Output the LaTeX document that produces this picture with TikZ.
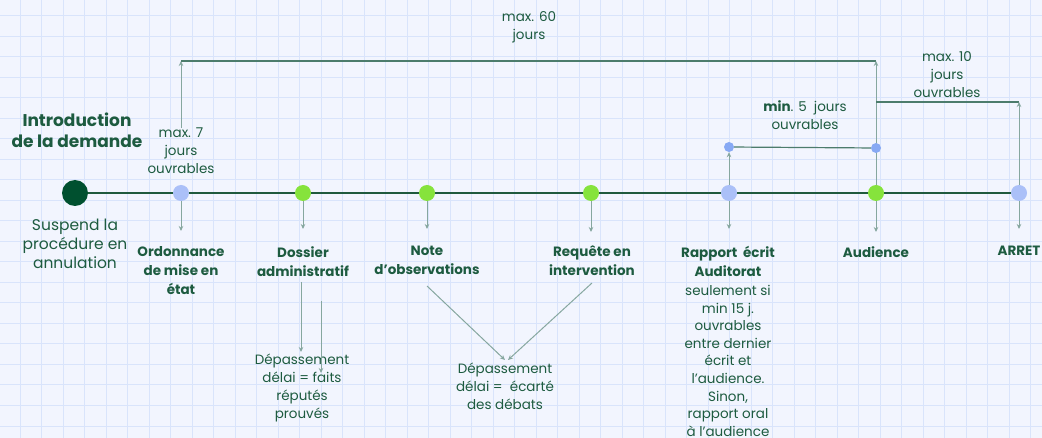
\documentclass[tikz,border=0pt]{standalone}
\usepackage{fontspec}
\setmainfont{Poppins}
\usetikzlibrary{arrows.meta}
\definecolor{bgc}{HTML}{F2F5FE}
\definecolor{gridc}{HTML}{D9E4FB}
\definecolor{darkdot}{HTML}{00502F}
\definecolor{lbdot}{HTML}{ABC0F8}
\definecolor{grdot}{HTML}{86E33C}
\definecolor{smdot}{HTML}{87A9F4}
\definecolor{tlc}{HTML}{1F5A3D}
\definecolor{connc}{HTML}{86A79F}
\definecolor{brkc}{HTML}{4C7C6C}
\definecolor{txtc}{HTML}{1D5B40}
\tikzset{
  dotbig/.style={circle,fill=darkdot,minimum size=26pt,inner sep=0pt},
  dotlb/.style={circle,fill=lbdot,minimum size=16pt,inner sep=0pt},
  dotgr/.style={circle,fill=grdot,minimum size=16pt,inner sep=0pt},
  dotsm/.style={circle,fill=smdot,minimum size=10pt,inner sep=0pt},
  timeline/.style={draw=tlc,line width=1.5pt},
  conn/.style={draw=connc,line width=1pt,-{Stealth[length=5pt,width=4.5pt]}},
  brk/.style={draw=brkc,line width=1.2pt},
  lbl/.style={text=txtc,align=center,inner sep=0pt,anchor=north,font=\fontsize{13.5}{19}\selectfont\bfseries},
  note/.style={text=txtc,align=center,inner sep=0pt,anchor=north,font=\fontsize{13.5}{18.5}\selectfont},
}
\begin{document}
\begin{tikzpicture}[x=1pt,y=-1pt]
\useasboundingbox (0,0) rectangle (1042,438);
\fill[bgc] (0,0) rectangle (1042,438);
\foreach \i in {0,...,48} {\draw[gridc,line width=1pt] (20+21.5*\i,0) -- (20+21.5*\i,438);}
\foreach \j in {0,...,21} {\draw[gridc,line width=1pt] (0,16+20.5*\j) -- (1042,16+20.5*\j);}

% coordinates
\coordinate (p0) at (75,193);
\coordinate (p1) at (181,193);
\coordinate (p2) at (303,193);
\coordinate (p3) at (427,193);
\coordinate (p4) at (591,193);
\coordinate (p5) at (729,193);
\coordinate (p6) at (876,193);
\coordinate (p7) at (1019,193);

% timeline
\draw[timeline] (p0) -- (p7);

% texts
\node[lbl,font=\fontsize{17}{21}\selectfont\bfseries] (intro) at (77,113) {Introduction\\de la demande};
\node[note,font=\fontsize{15.5}{19}\selectfont] (susp) at (75,219) {Suspend la\\procédure en\\annulation};
\node[note,font=\fontsize{13.5}{18}\selectfont] (m7) at (181,128) {max. 7\\jours\\ouvrables};
\node[note] (m60) at (529,11) {max. 60\\jours};
\node[note,font=\fontsize{13.5}{18}\selectfont] (m10) at (947,51) {max. 10\\jours\\ouvrables};
\node[note] (m5) at (805,100) {\textbf{min}. 5~ jours\\ouvrables};

\node[lbl] (l1) at (181,246) {Ordonnance\\de mise en\\état};
\node[lbl] (l2) at (303,246) {Dossier\\administratif};
\node[lbl] (l3) at (427,246) {Note\\d’observations};
\node[lbl] (l4) at (592,246) {Requête en\\intervention};
\node[lbl] (l5) at (728,246) {Rapport~ écrit\\Auditorat};
\node[lbl] (l6) at (876,246) {Audience};
\node[lbl] (l7) at (1019,246) {ARRET};
\node[note,font=\fontsize{13.5}{17.6}\selectfont] (r5) at (728,285) {seulement si\\min 15 j.\\ouvrables\\entre dernier\\écrit et\\l’audience.\\Sinon,\\rapport oral\\à l’audience};
\node[note,font=\fontsize{13.5}{18}\selectfont] (dd) at (302,354) {Dépassement\\délai = faits\\réputés\\prouvés};
\node[note,font=\fontsize{13.5}{18}\selectfont] (de) at (505,363) {Dépassement\\délai = ~écarté\\des débats};

% down arrows
\coordinate (d1) at (181,231);
\coordinate (d2) at (303,229);
\coordinate (d3) at (427,229);
\coordinate (d4) at (591,232);
\coordinate (d5) at (729,229);
\coordinate (d6) at (876,232);
\coordinate (d7) at (1019,229);
\foreach \k in {1,...,7} {\draw[conn] (p\k) -- (d\k);}

% dossier arrows
\coordinate (a1) at (301,282);
\coordinate (a2) at (301,352);
\coordinate (b1) at (321,301);
\coordinate (b2) at (321,373);
\draw[conn] (a1) -- (a2);
\draw[conn] (b1) -- (b2);

% note / requete arrows
\coordinate (n1) at (427,286);
\coordinate (n2) at (505,360);
\coordinate (q1) at (592,283);
\coordinate (q2) at (508,360);
\draw[conn] (n1) -- (n2);
\draw[conn] (q1) -- (q2);

% brackets
\coordinate (t1) at (181,61);
\coordinate (t6) at (876,61);
\coordinate (u6) at (876,102);
\coordinate (u7) at (1019,102);
\draw[conn] (m7.north) -- (t1);
\draw[brk] (t1) -- (t6);
\draw[conn] (p6) -- (t6);
\draw[brk] (u6) -- (u7);
\draw[conn] (p7) -- (u7);

\node[dotsm] (s5) at (729,147) {};
\node[dotsm] (s6) at (876,148) {};
\draw[brk] (s5) -- (s6);
\draw[conn] (p5) -- (s5);

% dots
\node[dotbig] (c0) at (p0) {};
\node[dotlb] (c1) at (p1) {};
\node[dotgr] (c2) at (p2) {};
\node[dotgr] (c3) at (p3) {};
\node[dotgr] (c4) at (p4) {};
\node[dotlb] (c5) at (p5) {};
\node[dotgr] (c6) at (p6) {};
\node[dotlb] (c7) at (p7) {};
\end{tikzpicture}
\end{document}
